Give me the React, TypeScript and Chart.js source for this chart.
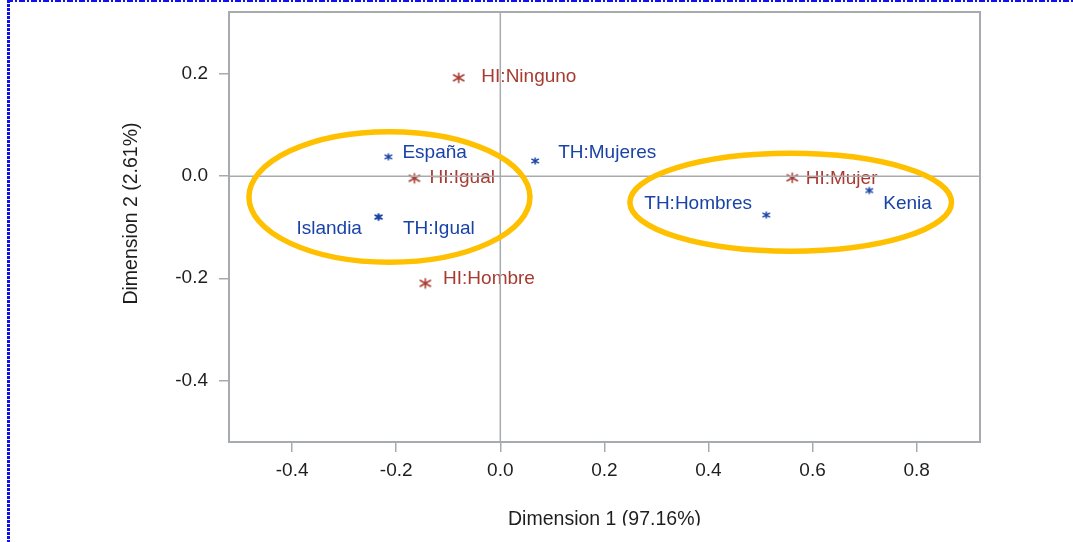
import React, { useEffect, useRef } from "react";
import { Chart, registerables } from "chart.js";

Chart.register(...registerables);

// ---- Data ----
const BLUE_LABELS = ["España", "Islandia", "TH:Igual", "TH:Mujeres", "TH:Hombres", "Kenia"];
const BLUE_X = [-0.215, -0.234, -0.234, 0.067, 0.511, 0.709];
const BLUE_Y = [0.038, -0.080, -0.080, 0.030, -0.076, -0.028];

const RED_LABELS = ["HI:Ninguno", "HI:Igual", "HI:Hombre", "HI:Mujer"];
const RED_X = [-0.080, -0.165, -0.144, 0.561];
const RED_Y = [0.193, -0.004, -0.210, -0.003];

const X_TICKS = [-0.4, -0.2, 0, 0.2, 0.4, 0.6, 0.8];
const X_TICK_LABELS = ["-0.4", "-0.2", "0.0", "0.2", "0.4", "0.6", "0.8"];
const Y_TICKS = [-0.4, -0.2, 0, 0.2];
const Y_TICK_LABELS = ["-0.4", "-0.2", "0.0", "0.2"];

const X_TITLE = "Dimension 1 (97.16%)";
const Y_TITLE = "Dimension 2 (2.61%)";

// ellipse annotations in data units
const ELLIPSE_CX = [-0.213, 0.558];
const ELLIPSE_CY = [-0.0406, -0.051];
const ELLIPSE_RX = [0.270, 0.309];
const ELLIPSE_RY = [0.128, 0.096];

// ---- Layout / style (pixel offsets of labels from their marker) ----
const BLUE_LABEL_OFFSETS: [number, number, CanvasTextAlign][] = [
  [14, 1, "left"],
  [-16.6, 16.8, "right"],
  [24.4, 16.8, "left"],
  [23, -3.2, "left"],
  [-14.3, -6, "right"],
  [14, 18.3, "left"],
];
const RED_LABEL_OFFSETS: [number, number, CanvasTextAlign][] = [
  [22.7, 3.8, "left"],
  [15, 5.2, "left"],
  [17.7, 0.5, "left"],
  [13.4, 6.1, "left"],
];

const FONT = "'Liberation Sans', Arial, Helvetica, sans-serif";
const BLUE = "#1a43a8";
const RED = "#a83a30";
const GRAY = "#a7abaf";
const ORANGE = "#ffc000";

function makeAsterisk(color: string, armV: number, armD: number, lw: number): HTMLCanvasElement {
  const c = document.createElement("canvas");
  const s = Math.ceil(Math.max(armV, armD) * 2 + lw * 2 + 2);
  c.width = s;
  c.height = s;
  const ctx = c.getContext("2d")!;
  ctx.strokeStyle = color;
  ctx.lineWidth = lw;
  ctx.lineCap = "butt";
  const cx = s / 2, cy = s / 2;
  ctx.beginPath();
  ctx.moveTo(cx, cy - armV);
  ctx.lineTo(cx, cy + armV);
  const a = Math.PI / 6;
  ctx.moveTo(cx - armD * Math.cos(a), cy - armD * Math.sin(a));
  ctx.lineTo(cx + armD * Math.cos(a), cy + armD * Math.sin(a));
  ctx.moveTo(cx - armD * Math.cos(a), cy + armD * Math.sin(a));
  ctx.lineTo(cx + armD * Math.cos(a), cy - armD * Math.sin(a));
  ctx.stroke();
  return c;
}

export default function App() {
  const ref = useRef<HTMLCanvasElement | null>(null);

  useEffect(() => {
    const canvas = ref.current;
    if (!canvas) return;

    const blueStar = makeAsterisk(BLUE, 3.6, 4.3, 1.5);
    const redStar = makeAsterisk(RED, 5.2, 6.5, 1.5);

    const decorPlugin = {
      id: "decor",
      afterDatasetsDraw(chart: any) {
        const ctx = chart.ctx as CanvasRenderingContext2D;
        const xs = chart.scales.x;
        const ys = chart.scales.y;
        const ca = chart.chartArea;
        ctx.save();
        // labels
        ctx.font = `19px ${FONT}`;
        ctx.textBaseline = "alphabetic";
        const sets: [number, string[], [number, number, CanvasTextAlign][], string][] = [
          [0, BLUE_LABELS, BLUE_LABEL_OFFSETS, BLUE],
          [1, RED_LABELS, RED_LABEL_OFFSETS, RED],
        ];
        for (const [di, labels, offs, color] of sets) {
          const meta = chart.getDatasetMeta(di);
          ctx.fillStyle = color;
          meta.data.forEach((el: any, i: number) => {
            const [dx, dy, align] = offs[i];
            ctx.textAlign = align;
            ctx.fillText(labels[i], el.x + dx, el.y + dy);
          });
        }
        // zero reference lines
        ctx.strokeStyle = GRAY;
        ctx.lineWidth = 1.5;
        const x0 = xs.getPixelForValue(0);
        const y0 = ys.getPixelForValue(0);
        ctx.beginPath();
        ctx.moveTo(x0, ca.top);
        ctx.lineTo(x0, ca.bottom);
        ctx.moveTo(ca.left, y0);
        ctx.lineTo(ca.right, y0);
        ctx.stroke();
        // box
        ctx.lineWidth = 2;
        ctx.strokeRect(ca.left, ca.top, ca.right - ca.left, ca.bottom - ca.top);
        // ellipses
        ctx.strokeStyle = ORANGE;
        ctx.lineWidth = 5.5;
        for (let i = 0; i < ELLIPSE_CX.length; i++) {
          const cx = xs.getPixelForValue(ELLIPSE_CX[i]);
          const cy = ys.getPixelForValue(ELLIPSE_CY[i]);
          const rx = Math.abs(xs.getPixelForValue(ELLIPSE_CX[i] + ELLIPSE_RX[i]) - cx);
          const ry = Math.abs(ys.getPixelForValue(ELLIPSE_CY[i] + ELLIPSE_RY[i]) - cy);
          ctx.beginPath();
          ctx.ellipse(cx, cy, rx, ry, 0, 0, Math.PI * 2);
          ctx.stroke();
        }
        ctx.restore();
      },
      afterDraw(chart: any) {
        const ctx = chart.ctx as CanvasRenderingContext2D;
        const ca = chart.chartArea;
        ctx.save();
        // axis titles
        ctx.fillStyle = "#1e1e1e";
        ctx.font = `19.5px ${FONT}`;
        ctx.textAlign = "center";
        ctx.textBaseline = "alphabetic";
        ctx.save();
        ctx.beginPath();
        ctx.rect(0, 0, chart.width, 525.5);
        ctx.clip();
        ctx.fillText(X_TITLE, (ca.left + ca.right) / 2, 525);
        ctx.restore();
        ctx.save();
        ctx.translate(137, 213.5);
        ctx.rotate(-Math.PI / 2);
        ctx.fillText(Y_TITLE, 0, 0);
        ctx.restore();
        // dotted blue frame
        ctx.strokeStyle = "#1010ee";
        ctx.lineWidth = 2;
        ctx.setLineDash([6, 2, 2, 2]);
        ctx.beginPath();
        ctx.moveTo(7, 1);
        ctx.lineTo(chart.width, 1);
        ctx.stroke();
        ctx.lineWidth = 3;
        ctx.setLineDash([3, 1]);
        ctx.beginPath();
        ctx.moveTo(8.5, 0);
        ctx.lineTo(8.5, chart.height);
        ctx.stroke();
        ctx.restore();
      },
    };

    const chart = new Chart(canvas, {
      type: "scatter",
      data: {
        datasets: [
          {
            label: "filas",
            data: BLUE_X.map((x, i) => ({ x, y: BLUE_Y[i] })),
            pointStyle: blueStar as any,
            pointRadius: 5,
            borderColor: BLUE,
            backgroundColor: BLUE,
          },
          {
            label: "columnas",
            data: RED_X.map((x, i) => ({ x, y: RED_Y[i] })),
            pointStyle: redStar as any,
            pointRadius: 6,
            borderColor: RED,
            backgroundColor: RED,
          },
        ],
      },
      options: {
        animation: false,
        responsive: false,
        devicePixelRatio: 1,
        layout: { padding: { left: 0, top: 12, right: 93, bottom: 0 } },
        plugins: { legend: { display: false }, tooltip: { enabled: false } },
        scales: {
          x: {
            type: "linear",
            min: -0.5213,
            max: 0.9217,
            afterBuildTicks: (s: any) => {
              s.ticks = X_TICKS.map((v) => ({ value: v }));
            },
            afterFit: (s: any) => {
              s.height = 100;
              s.paddingLeft = 0;
              s.paddingRight = 0;
            },
            grid: { drawOnChartArea: false, drawTicks: true, tickLength: 10, color: GRAY, lineWidth: 1.5 },
            border: { display: true, color: GRAY, width: 2 },
            ticks: {
              padding: 7,
              color: "#1e1e1e",
              font: { family: FONT, size: 19 },
              maxRotation: 0,
              autoSkip: false,
              callback: (v: any) => {
                const i = X_TICKS.findIndex((t) => Math.abs(t - Number(v)) < 1e-6);
                return i >= 0 ? X_TICK_LABELS[i] : "";
              },
            },
          },
          y: {
            type: "linear",
            min: -0.521,
            max: 0.322,
            afterBuildTicks: (s: any) => {
              s.ticks = Y_TICKS.map((v) => ({ value: v }));
            },
            afterFit: (s: any) => {
              s.width = 229;
              s.paddingTop = 0;
              s.paddingBottom = 0;
            },
            grid: { drawOnChartArea: false, drawTicks: true, tickLength: 10, color: GRAY, lineWidth: 1.5 },
            border: { display: true, color: GRAY, width: 2 },
            ticks: {
              padding: 11,
              color: "#1e1e1e",
              font: { family: FONT, size: 19 },
              autoSkip: false,
              callback: (v: any) => {
                const i = Y_TICKS.findIndex((t) => Math.abs(t - Number(v)) < 1e-6);
                return i >= 0 ? Y_TICK_LABELS[i] : "";
              },
            },
          },
        },
      },
      plugins: [decorPlugin],
    });

    return () => chart.destroy();
  }, []);

  return (
    <div style={{ position: "fixed", left: 0, top: 0, width: 1073, height: 542, background: "#fff" }}>
      <canvas ref={ref} width={1073} height={542} style={{ width: 1073, height: 542, display: "block" }} />
    </div>
  );
}
